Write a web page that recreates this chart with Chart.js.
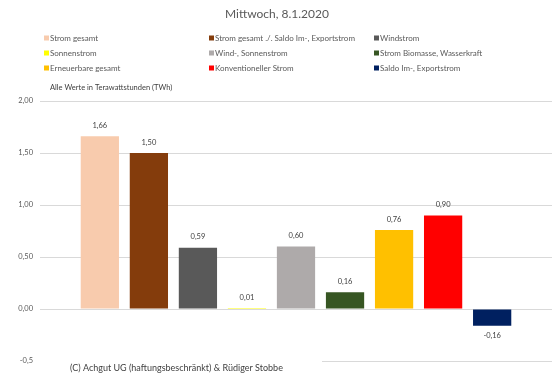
<!DOCTYPE html>
<html><head><meta charset="utf-8">
<script src="https://cdn.jsdelivr.net/npm/chart.js@4"></script>
<style>html,body{margin:0;padding:0;background:#fff}canvas{display:block}</style>
</head><body>
<canvas id="c" width="554" height="382"></canvas>
<script>
const titleText = 'Mittwoch, 8.1.2020';
const unitText = 'Alle Werte in Terawattstunden (TWh)';
const copyrightText = '(C) Achgut UG (haftungsbeschränkt) & Rüdiger Stobbe';
const categories = [''];
const seriesNames = ['Strom gesamt','Strom gesamt ./. Saldo Im-, Exportstrom','Windstrom','Sonnenstrom','Wind-, Sonnenstrom','Strom Biomasse, Wasserkraft','Erneuerbare gesamt','Konventioneller Strom','Saldo Im-, Exportstrom'];
const seriesValues = [1.66,1.50,0.59,0.01,0.60,0.16,0.76,0.90,-0.16];
const seriesColors = ['#F8CBAD','#843C0C','#595959','#FFFF00','#AEAAAA','#375623','#FFC000','#FF0000','#002060'];
const yTickValues = [-0.5,0,0.5,1,1.5,2];
const yTickLabels = ['-0,5','0,00','0,50','1,00','1,50','2,00'];
const FONT = 'Lato, "Open Sans", sans-serif';

const fmt = v => v.toFixed(2).replace('.', ',');

const customDraw = {
  id: 'customDraw',
  afterDraw(chart) {
    const ctx = chart.ctx;
    ctx.save();
    ctx.fillStyle = '#595959';
    ctx.font = '12px ' + FONT;
    ctx.textAlign = 'center'; ctx.textBaseline = 'middle';
    ctx.fillText(titleText, 277, 14);
    ctx.font = '8px ' + FONT;
    ctx.textAlign = 'left';
    const colX = [44, 209, 374], rowY = [38, 53, 68];
    chart.data.datasets.forEach((ds, i) => {
      const x = colX[i % 3], y = rowY[Math.floor(i / 3)];
      ctx.fillStyle = ds.backgroundColor;
      ctx.fillRect(x, y - 2.5, 5, 5);
      ctx.fillStyle = '#595959';
      ctx.fillText(ds.label, x + 6, y);
    });
    ctx.fillStyle = '#404040';
    ctx.font = '7.5px ' + FONT;
    ctx.fillText(unitText, 50, 88);
    ctx.font = '7.5px ' + FONT;
    ctx.textAlign = 'center';
    ctx.fillStyle = '#404040';
    chart.data.datasets.forEach((ds, i) => {
      const meta = chart.getDatasetMeta(i);
      meta.data.forEach((el, j) => {
        const v = ds.data[j];
        if (v >= 0) { ctx.textBaseline = 'bottom'; ctx.fillText(fmt(v), el.x, el.y - 7); }
        else { ctx.textBaseline = 'top'; ctx.fillText(fmt(v), el.x, el.y + 6); }
      });
    });
    ctx.fillStyle = '#fff';
    ctx.fillRect(38, 355, 284, 24);
    ctx.fillStyle = '#404040';
    ctx.font = '9px ' + FONT;
    ctx.textAlign = 'left'; ctx.textBaseline = 'middle';
    ctx.fillText(copyrightText, 70, 368);
    ctx.restore();
  }
};

new Chart(document.getElementById('c'), {
  type: 'bar',
  data: {
    labels: categories,
    datasets: seriesNames.map((n, i) => ({
      label: n, data: [seriesValues[i]], backgroundColor: seriesColors[i],
      categoryPercentage: 0.862, barPercentage: 0.78
    }))
  },
  options: {
    responsive: false, animation: false,
    layout: { padding: { top: 101, bottom: 21, left: 0, right: 2 } },
    plugins: { legend: { display: false }, title: { display: false }, tooltip: { enabled: false } },
    scales: {
      x: { display: false },
      y: {
        min: -0.5, max: 2,
        afterFit(s) { s.width = 40; },
        afterBuildTicks(s) { s.ticks = yTickValues.map(v => ({ value: v })); },
        ticks: {
          color: '#595959', font: { family: FONT, size: 7.5 }, padding: 7,
          callback: (v) => { const k = yTickValues.indexOf(v); return k >= 0 ? yTickLabels[k] : ''; }
        },
        grid: { color: '#D9D9D9', drawTicks: false, lineWidth: 1 },
        border: { display: false }
      }
    }
  },
  plugins: [customDraw]
});
</script>
</body></html>
